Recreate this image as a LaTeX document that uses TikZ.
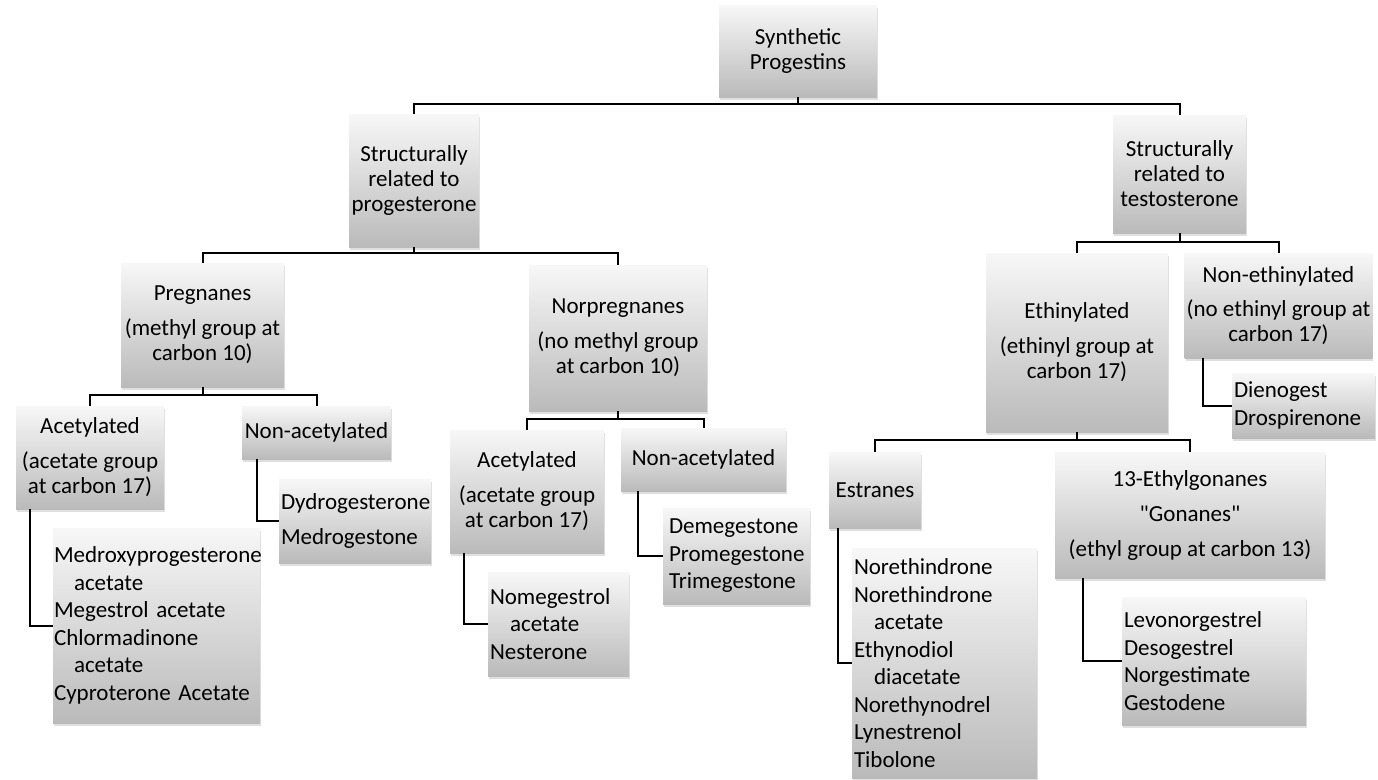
\documentclass[tikz,border=0pt]{standalone}
\usepackage{fontspec}
\setmainfont{Carlito}
\usetikzlibrary{shadows}
\hyphenpenalty=10000
\newcommand{\hang}{\hspace*{20pt}}

\begin{document}
\begin{tikzpicture}[x=1pt,y=-1pt,
  hdr/.style={top color=black!3,bottom color=black!27,
    drop shadow={opacity=0.25,shadow xshift=1pt,shadow yshift=-3pt},
    align=center,inner sep=2pt,font=\fontsize{23}{25}\selectfont},
  lst/.style={hdr,align=left,inner xsep=2pt,
    font=\fontsize{23}{27.5}\selectfont},
  conn/.style={line width=2pt}]
  \useasboundingbox (0,0) rectangle (1378,779);

  \node[hdr,minimum width=158pt,minimum height=92pt]  (syn)     at (798,51)      {Synthetic\\Progestins};
  \node[hdr,minimum width=130pt,minimum height=133pt] (srp)     at (414,180.5)   {Structurally\\related to\\progesterone};
  \node[hdr,minimum width=133pt,minimum height=118pt] (srt)     at (1179.5,174)  {Structurally\\related to\\testosterone};
  \node[hdr,minimum width=163pt,minimum height=124pt] (preg)    at (202.5,325)   {Pregnanes\\[10pt](methyl group at\\carbon 10)};
  \node[hdr,minimum width=178pt,minimum height=146pt] (norpreg) at (618,338)     {Norpregnanes\\[10pt](no methyl group\\at carbon 10)};
  \node[hdr,minimum width=148pt,minimum height=103pt] (pac)     at (90,457.5)    {Acetylated\\[10pt](acetate group\\at carbon 17)};
  \node[hdr,minimum width=149pt,minimum height=53pt]  (pnac)    at (316.5,432.5) {Non-acetylated};
  \node[hdr,minimum width=154pt,minimum height=123pt] (npac)    at (527,491.5)   {Acetylated\\[10pt](acetate group\\at carbon 17)};
  \node[hdr,minimum width=165pt,minimum height=63pt]  (npnac)   at (703.5,459.5) {Non-acetylated};
  \node[hdr,minimum width=182pt,minimum height=179pt] (ethin)   at (1077,342.5)  {Ethinylated\\[10pt](ethinyl group at\\carbon 17)};
  \node[hdr,minimum width=187pt,minimum height=105pt] (nonethin) at (1278.5,305.5) {Non-ethinylated\\[9pt](no ethinyl group at\\carbon 17)};
  \node[hdr,minimum width=92pt,minimum height=76pt]   (estr)    at (875,490)     {Estranes};
  \node[hdr,minimum width=270pt,minimum height=126pt] (gon)     at (1190,515)    {13-Ethylgonanes\\[10pt]\textquotedbl Gonanes\textquotedbl\\[10pt](ethyl group at carbon 13)};

  % drug lists
  \node[lst,inner xsep=1pt,text width=205pt,minimum height=195pt] (medroxy) at (156.5,625.5)
    {Medroxyprogesterone\\ \hang acetate\\Megestrol acetate\\Chlormadinone\\ \hang acetate\\Cyproterone Acetate};
  \node[lst,text width=148pt,minimum height=84pt]  (dydro)   at (355,521)     {Dydrogesterone\\[7pt]Medrogestone};
  \node[lst,text width=137pt,minimum height=104pt] (nomeg)   at (558.5,624)   {Nomegestrol\\ \hang acetate\\Nesterone};
  \node[lst,inner xsep=6pt,text width=135pt,minimum height=96pt] (demeg) at (736.5,556) {Demegestone\\Promegestone\\Trimegestone};
  \node[lst,text width=139pt,minimum height=65pt]  (dieno)   at (1303.5,405.5) {Dienogest\\Drospirenone};
  \node[lst,text width=181pt,minimum height=230pt] (noreth)  at (944.5,663)
    {Norethindrone\\Norethindrone\\ \hang acetate\\Ethynodiol\\ \hang diacetate\\Norethynodrel\\Lynestrenol\\Tibolone};
  \node[lst,text width=180pt,minimum height=128pt] (levo)    at (1214,661)    {Levonorgestrel\\Desogestrel\\Norgestimate\\Gestodene};

  % tree links
  \draw[conn] (syn.south) -- ++(0,7) coordinate (b0);
  \draw[conn] (srp.north) |- (b0) -| (srt.north);
  \draw[conn] (srp.south) -- ++(0,6) coordinate (b1);
  \draw[conn] (preg.north) |- (b1) -| (norpreg.north);
  \draw[conn] (preg.south) -- ++(0,8) coordinate (b2);
  \draw[conn] (pac.north) |- (b2) -| (pnac.north);
  \draw[conn] (norpreg.south) -- ++(0,8) coordinate (b3);
  \draw[conn] (npac.north) |- (b3) -| (npnac.north);
  \draw[conn] (srt.south) -- ++(0,9) coordinate (b4);
  \draw[conn] (ethin.north) |- (b4) -| (nonethin.north);
  \draw[conn] (ethin.south) -- ++(0,8) coordinate (b5);
  \draw[conn] (estr.north) |- (b5) -| (gon.north);

  % side links to the lists
  \draw[conn] (medroxy.west) -| ([xshift=14pt]pac.south west);
  \draw[conn] (dydro.west)   -| ([xshift=15pt]pnac.south west);
  \draw[conn] (nomeg.west)   -| ([xshift=14pt]npac.south west);
  \draw[conn] (demeg.west)   -| ([xshift=17pt]npnac.south west);
  \draw[conn] (dieno.west)   -| ([xshift=19pt]nonethin.south west);
  \draw[conn] (noreth.west)  -| ([xshift=9pt]estr.south west);
  \draw[conn] (levo.west)    -| ([xshift=28pt]gon.south west);
\end{tikzpicture}
\end{document}
